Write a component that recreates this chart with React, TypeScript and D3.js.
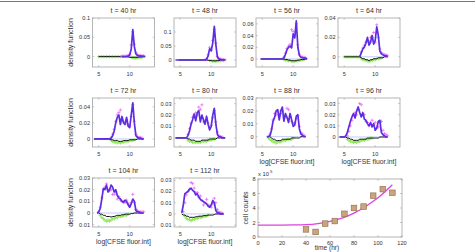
import React from "react";
import * as d3 from "d3";

const _ = null;

// log CFSE fluorescence bins shared by every density panel
const logCfse = [
  4.25, 4.5, 4.75,
  5, 5.25, 5.5, 5.75,
  6, 6.25, 6.5, 6.75,
  7, 7.25, 7.5, 7.75,
  8, 8.25, 8.5, 8.75,
  9, 9.25, 9.5, 9.75,
  10, 10.25, 10.5, 10.75,
  11, 11.25, 11.5, 11.75,
  12, 12.25, 12.5,
];
const xTicks = [5, 10];
const hours = [40, 48, 56, 64, 72, 80, 88, 96, 104, 112];

// model density (blue-violet line)
const fit40 = [_, _, _, _, _, _, _, _, _, _, _, _, _, _, _, _, _, _, 0, 0, 0, 0, 0.001, 0.004, 0.02, 0.07, 0.026, 0.007, 0.003, 0.002, 0.001, 0.001, 0.0005, 0];
const fit48 = [0, 0, 0, 0, 0, 0, 0, 0, 0, 0, 0, 0, 0, 0, 0, 0, 0, 0, 0, 0, 0.002, 0.015, 0.04, 0.033, 0.06, 0.12, 0.055, 0.01, 0.004, 0.002, 0.001, 0.0005, 0, _];
const fit56 = [_, _, 0, 0, 0, 0, 0, 0, 0, 0, 0, 0, 0, 0, 0, 0, 0, 0.002, 0.008, 0.016, 0.02, 0.022, 0.019, 0.043, 0.036, 0.065, 0.02, 0.006, 0.003, 0.002, 0.002, 0.001, 0, _];
const fit64 = [_, _, _, _, _, _, _, _, _, _, _, _, _, 0, 0.004, 0.008, 0.01, 0.014, 0.02, 0.012, 0.015, 0.022, 0.013, 0.017, 0.031, 0.022, 0.006, 0.003, 0.002, 0.001, 0.001, 0, _, _];
const fit72 = [0, 0, 0, 0, 0, 0, 0, 0, 0, 0, 0, 0.001, 0.004, 0.01, 0.02, 0.027, 0.03, 0.018, 0.028, 0.02, 0.018, 0.027, 0.016, 0.014, 0.03, 0.045, 0.02, 0.004, 0.002, 0.001, 0.001, 0, 0, _];
const fit80 = [0, 0, 0, 0, 0, 0, 0, 0, 0.002, 0.006, 0.012, 0.016, 0.021, 0.015, 0.022, 0.024, 0.014, 0.02, 0.016, 0.012, 0.019, 0.012, 0.007, 0.01, 0.02, 0.026, 0.012, 0.003, 0.001, 0.001, 0, 0, 0, _];
const fit88 = [_, _, _, _, _, _, 0, 0, 0.001, 0.005, 0.012, 0.015, 0.02, 0.021, 0.013, 0.02, 0.023, 0.012, 0.018, 0.015, 0.011, 0.018, 0.013, 0.008, 0.009, 0.016, 0.017, 0.006, 0.002, 0.001, 0, 0, _, _];
const fit96 = [0, 0, 0, 0, 0.001, 0.004, 0.009, 0.014, 0.018, 0.021, 0.017, 0.023, 0.027, 0.022, 0.018, 0.022, 0.016, 0.015, 0.012, 0.01, 0.013, 0.009, 0.012, 0.006, 0.008, 0.014, 0.015, 0.004, 0.002, 0.001, 0, 0, _, _];
const fit104 = [_, _, 0, 0.001, 0.004, 0.012, 0.021, 0.02, 0.024, 0.018, 0.02, 0.024, 0.022, 0.018, 0.02, 0.015, 0.013, 0.012, 0.01, 0.009, 0.011, 0.01, 0.007, 0.005, 0.008, 0.012, 0.01, 0.002, 0.001, 0.001, 0, 0, 0, _];
const fit112 = [_, _, _, _, 0.001, 0.008, 0.018, 0.019, 0.02, 0.022, 0.023, 0.021, 0.02, 0.017, 0.018, 0.015, 0.013, 0.012, 0.011, 0.01, 0.009, 0.007, 0.006, 0.008, 0.012, 0.01, 0.003, 0.001, 0.001, 0, 0, 0, _, _];

// measured density (magenta plus markers)
const obs40 = [_, _, _, _, _, _, _, _, _, _, _, _, _, _, _, _, _, _, 0.001, 0.001, 0.001, 0.002, 0.003, 0.006, 0.03, 0.064, 0.032, 0.01, 0.004, 0.003, 0.003, 0.002, 0.002, _];
const obs48 = [_, _, _, _, _, _, _, _, _, _, _, _, _, _, _, _, _, _, _, 0.001, 0.004, 0.018, 0.045, 0.035, 0.07, 0.11, 0.06, 0.013, 0.005, 0.003, 0.002, 0.001, 0.001, _];
const obs56 = [_, _, _, _, _, _, _, _, _, _, _, _, _, _, _, _, _, 0.003, 0.01, 0.018, 0.022, 0.025, 0.05, 0.047, 0.04, 0.06, 0.024, 0.008, 0.004, 0.003, 0.003, 0.002, _, _];
const obs64 = [_, _, _, _, _, _, _, _, _, _, _, _, _, _, 0.005, 0.009, 0.012, 0.015, 0.017, 0.016, 0.02, 0.02, 0.025, 0.015, 0.033, 0.02, 0.008, 0.004, 0.003, 0.002, 0.002, 0.001, _, _];
const obs72 = [_, _, _, _, _, _, _, _, _, _, _, 0.002, 0.006, 0.012, 0.022, 0.03, 0.033, 0.036, 0.025, 0.022, 0.02, 0.024, 0.018, 0.016, 0.028, 0.043, 0.022, 0.006, 0.003, 0.002, 0.002, 0.001, _, _];
const obs80 = [_, _, _, _, _, _, _, _, 0.003, 0.008, 0.013, 0.018, 0.02, 0.022, 0.02, 0.027, 0.025, 0.029, 0.014, 0.015, 0.016, 0.013, 0.009, 0.011, 0.018, 0.024, 0.014, 0.005, 0.002, 0.001, 0.001, _, _, _];
const obs88 = [_, _, _, _, _, _, _, _, 0.002, 0.006, 0.013, 0.018, 0.017, 0.02, 0.016, 0.018, 0.02, 0.015, 0.016, 0.022, 0.021, 0.016, 0.012, 0.01, 0.011, 0.014, 0.016, 0.008, 0.003, 0.002, 0.001, _, _, _];
const obs96 = [_, _, _, _, _, 0.001, 0.005, 0.01, 0.015, 0.02, 0.022, 0.02, 0.025, 0.03, 0.029, 0.02, 0.02, 0.014, 0.013, 0.01, 0.012, 0.015, 0.011, 0.013, 0.008, 0.009, 0.013, 0.014, 0.006, 0.003, 0.002, 0.001, _, _];
const obs104 = [_, _, _, 0.001, 0.005, 0.013, 0.02, 0.022, 0.025, 0.02, 0.019, 0.02, 0.016, 0.016, 0.018, 0.012, 0.014, 0.011, 0.01, 0.01, 0.009, 0.011, 0.008, 0.006, 0.009, 0.016, 0.009, 0.003, 0.002, 0.001, 0.001, 0.001, 0.001, _];
const obs112 = [_, _, _, _, _, 0.002, 0.01, 0.017, 0.02, 0.022, 0.028, 0.027, 0.023, 0.019, 0.019, 0.015, 0.016, 0.012, 0.008, 0.01, 0.013, 0.008, 0.007, 0.006, 0.009, 0.014, 0.01, 0.004, 0.002, 0.001, 0.001, _, _, _];

// model loss term (black line)
const loss40 = [_, _, _, 0, 0, 0, 0, 0, 0, 0, 0, 0, 0, 0, 0, 0, 0, 0, 0, 0, 0, 0, -0.001, -0.002, -0.002, -0.002, -0.002, -0.002, -0.002, -0.001, -0.001, -0.001, 0, 0];
const loss48 = [_, _, 0, 0, 0, 0, 0, 0, 0, 0, 0, 0, 0, 0, 0, 0, 0, 0, 0, 0, 0, -0.001, -0.002, -0.002, -0.003, -0.003, -0.003, -0.002, -0.002, -0.001, -0.001, 0, 0, _];
const loss56 = [_, _, 0, 0, 0, 0, 0, 0, 0, 0, 0, 0, 0, 0, 0, 0, 0, 0, -0.001, -0.001, -0.002, -0.002, -0.003, -0.003, -0.003, -0.003, -0.002, -0.002, -0.001, -0.001, -0.001, 0, 0, _];
const loss64 = [_, _, _, 0, 0, 0, 0, 0, 0, 0, 0, 0, 0, 0, -0.001, -0.002, -0.002, -0.003, -0.003, -0.004, -0.003, -0.003, -0.002, -0.002, -0.002, -0.001, -0.001, -0.001, -0.001, 0, 0, 0, _, _];
const loss72 = [0, 0, 0, 0, 0, 0, 0, 0, 0, 0, 0, -0.001, -0.001, -0.002, -0.002, -0.002, -0.003, -0.003, -0.003, -0.002, -0.002, -0.002, -0.002, -0.001, -0.001, -0.001, -0.001, -0.001, 0, 0, 0, 0, 0, _];
const loss80 = [0, 0, 0, 0, 0, 0, 0, 0, -0.001, -0.001, -0.002, -0.002, -0.002, -0.003, -0.003, -0.003, -0.003, -0.002, -0.002, -0.002, -0.002, -0.002, -0.001, -0.001, -0.001, -0.001, -0.001, 0, 0, 0, 0, 0, 0, _];
const loss88 = [_, _, _, _, _, _, 0, 0, 0, -0.001, -0.002, -0.002, -0.003, -0.003, -0.003, -0.003, -0.002, -0.002, -0.002, -0.002, -0.002, -0.002, -0.001, -0.001, -0.001, -0.001, -0.001, -0.001, 0, 0, 0, 0, _, _];
const loss96 = [0, 0, 0, 0, 0, -0.001, -0.001, -0.002, -0.002, -0.003, -0.003, -0.003, -0.003, -0.002, -0.002, -0.002, -0.002, -0.002, -0.001, -0.001, -0.001, -0.001, -0.001, -0.001, -0.001, -0.001, 0, 0, 0, 0, 0, 0, _, _];
const loss104 = [_, _, 0, 0, -0.001, -0.001, -0.002, -0.002, -0.003, -0.003, -0.003, -0.0035, -0.003, -0.003, -0.0025, -0.002, -0.002, -0.002, -0.0015, -0.0015, -0.001, -0.001, -0.001, -0.001, -0.0005, -0.0005, 0, 0, 0, 0, 0, 0, 0, _];
const loss112 = [_, _, _, _, 0, -0.001, -0.001, -0.002, -0.002, -0.003, -0.003, -0.003, -0.003, -0.0025, -0.0025, -0.002, -0.002, -0.002, -0.0015, -0.0015, -0.0015, -0.001, -0.001, -0.001, -0.001, -0.0005, 0, 0, 0, 0, 0, 0, _, _];

// measured loss term (green plus markers)
const lossObs40 = [_, _, _, 0, 0, 0, 0, 0, 0, 0, 0, 0, 0, 0, 0, 0, 0, 0, 0, _, _, _, _, _, -0.002, -0.003, -0.004, -0.004, -0.003, -0.003, -0.002, -0.002, _, _];
const lossObs48 = [_, _, _, _, _, _, _, _, _, _, _, _, _, _, _, _, _, _, _, _, _, _, -0.002, -0.003, -0.004, -0.004, -0.005, -0.004, -0.003, -0.003, -0.002, -0.002, _, _];
const lossObs56 = [_, _, _, _, _, _, _, _, _, _, _, _, _, _, _, _, _, -0.001, -0.002, -0.002, -0.003, -0.003, -0.004, -0.004, -0.004, -0.003, -0.003, -0.002, -0.002, -0.001, -0.001, _, _, _];
const lossObs64 = [_, _, _, 0, 0, 0, 0, 0, 0, 0, 0, 0, 0, 0, -0.002, -0.003, -0.003, -0.004, -0.004, -0.005, -0.004, -0.004, -0.003, -0.003, -0.002, -0.002, -0.002, -0.001, _, _, _, _, _, _];
const lossObs72 = [_, _, _, _, _, _, _, _, _, _, _, -0.002, -0.003, -0.004, -0.004, -0.005, -0.004, -0.005, -0.004, -0.004, -0.003, -0.003, -0.003, -0.002, -0.002, -0.002, -0.001, _, _, _, _, _, _, _];
const lossObs80 = [_, _, _, _, _, _, _, _, -0.002, -0.003, -0.003, -0.004, -0.004, -0.004, -0.004, -0.004, -0.004, -0.003, -0.003, -0.003, -0.003, -0.002, -0.002, -0.002, -0.001, -0.001, _, _, _, _, _, _, _, _];
const lossObs88 = [_, _, _, _, _, _, _, -0.001, -0.002, -0.003, -0.004, -0.004, -0.005, -0.004, -0.004, -0.004, -0.003, -0.003, -0.003, -0.002, -0.002, -0.002, -0.002, -0.001, _, _, _, _, _, _, _, _, _, _];
const lossObs96 = [_, _, _, _, _, -0.002, -0.003, -0.004, -0.004, -0.005, -0.004, -0.005, -0.004, -0.004, -0.003, -0.003, -0.003, -0.002, -0.002, -0.002, -0.001, -0.001, _, _, _, _, _, _, _, _, _, _, _, _];
const lossObs104 = [_, _, _, _, -0.002, -0.004, -0.005, -0.006, -0.007, -0.006, -0.007, -0.006, -0.005, -0.005, -0.004, -0.004, -0.003, -0.003, -0.003, -0.002, -0.002, -0.002, -0.001, _, _, _, _, _, _, _, _, _, _, _];
const lossObs112 = [_, _, _, _, _, _, -0.002, -0.004, -0.005, -0.005, -0.006, -0.005, -0.005, -0.004, -0.004, -0.003, -0.003, -0.003, -0.002, -0.002, -0.002, -0.001, _, _, _, _, _, _, _, _, _, _, _, _];

const fits = [fit40, fit48, fit56, fit64, fit72, fit80, fit88, fit96, fit104, fit112];
const observed = [obs40, obs48, obs56, obs64, obs72, obs80, obs88, obs96, obs104, obs112];
const lossFits = [loss40, loss48, loss56, loss64, loss72, loss80, loss88, loss96, loss104, loss112];
const lossObserved = [lossObs40, lossObs48, lossObs56, lossObs64, lossObs72, lossObs80, lossObs88, lossObs96, lossObs104, lossObs112];

const yLimits = [
  [-0.027, 0.1], [-0.025, 0.15], [-0.0137, 0.07], [-0.0105, 0.04],
  [-0.01, 0.051], [-0.008, 0.035], [-0.008, 0.03], [-0.009, 0.035],
  [-0.012, 0.03], [-0.0116, 0.032],
];
const yTickValues = [
  [0, 0.05, 0.1], [0, 0.05, 0.1], [0, 0.02, 0.04, 0.06], [0, 0.02, 0.04],
  [0, 0.02, 0.04], [0, 0.01, 0.02, 0.03], [0, 0.01, 0.02, 0.03], [0, 0.01, 0.02, 0.03],
  [-0.01, 0, 0.01, 0.02, 0.03], [-0.01, 0, 0.01, 0.02, 0.03],
];
const yTickText = [
  ["0", "0.05", "0.1"], ["0", "0.05", "0.1"], ["0", "0.02", "0.04", "0.06"], ["0", "0.02", "0.04"],
  ["0", "0.02", "0.04"], ["0", "0.01", "0.02", "0.03"], ["0", "0.01", "0.02", "0.03"], ["0", "0.01", "0.02", "0.03"],
  ["0.01", "0", "0.01", "0.02", "0.03"], ["0.01", "0", "0.01", "0.02", "0.03"],
];

// population counts
const sampleHours = [40, 48, 56, 64, 72, 80, 88, 96, 104, 112];
const cellCounts = [1.05, 0.7, 1.85, 2.2, 3.2, 4.0, 4.2, 5.7, 6.6, 6.1];
const fitHours = [0, 10, 20, 30, 40, 50, 60, 70, 80, 90, 100, 112];
const fitCounts = [1.65, 1.65, 1.65, 1.66, 1.7, 1.85, 2.15, 2.6, 3.3, 4.25, 5.4, 7.2];
const timeTicks = [0, 20, 40, 60, 80, 100, 120];
const countTicks = [0, 2, 4, 6, 8];

const FONT = "'Liberation Sans', Arial, sans-serif";
const TEXT = "#333";
const FRAME = "#a4a4a4";
const PURPLE = "#5a2ee2";
const MAGENTA = "#ee66ee";
const GREEN = "#90e85c";
const ZERO_BLUE = "#b3bcf5";

const colLeft = [92.5, 174, 256, 338];
const rowTop = [0, 80, 160];
const PW = 62;
const PH = 49;

type Pt = [number, number];

const plus = (cx: number, cy: number, r: number) =>
  `M${cx - r},${cy}H${cx + r}M${cx},${cy - r}V${cy + r}`;

function DensityPanel({ i }: { i: number }) {
  const row = Math.floor(i / 4);
  const col = i % 4;
  const left = colLeft[col];
  const top = rowTop[row] + 18;
  const x = d3.scaleLinear().domain([4, 14]).range([left, left + PW]);
  const y = d3.scaleLinear().domain(yLimits[i]).range([top + PH, top]);
  const series = (vals: (number | null)[]): Pt[] =>
    logCfse.map((g, k) => [g, vals[k]] as [number, number | null]).filter((d) => d[1] != null) as Pt[];
  const line = d3.line<Pt>().x((d) => x(d[0])).y((d) => y(d[1]));
  const markers = (vals: (number | null)[], r: number) =>
    series(vals).map((d) => plus(x(d[0]), y(d[1]), r)).join("");
  const lossSeries = series(lossFits[i]);
  const [z0, z1] = d3.extent(lossSeries, (d) => d[0]) as [number, number];
  const showXLabel = i >= 6;

  return (
    <g>
      <text x={left + PW / 2} y={rowTop[row] + 12.5} fontSize={7} textAnchor="middle" fill={TEXT}>
        t = {hours[i]} hr
      </text>
      <rect x={left} y={top} width={PW} height={PH} fill="#fff" stroke={FRAME} strokeWidth={0.8} />
      <line x1={x(z0)} x2={x(z1)} y1={y(0)} y2={y(0)} stroke={ZERO_BLUE} strokeWidth={0.8} />
      <path d={markers(lossObserved[i], 1.6)} stroke={GREEN} strokeWidth={1} fill="none" />
      <path d={line(lossSeries) || ""} stroke="#111" strokeWidth={1} fill="none" />
      <path d={markers(observed[i], 1.6)} stroke={MAGENTA} strokeWidth={0.75} fill="none" />
      <path d={line(series(fits[i])) || ""} stroke={PURPLE} strokeWidth={1.7} fill="none" strokeLinejoin="round" />
      {xTicks.map((v) => (
        <g key={"x" + v}>
          <line x1={x(v)} x2={x(v)} y1={top + PH} y2={top + PH - 1.8} stroke={FRAME} strokeWidth={0.6} />
          <line x1={x(v)} x2={x(v)} y1={top} y2={top + 1.8} stroke={FRAME} strokeWidth={0.6} />
          <text x={x(v)} y={rowTop[row] + 75.5} fontSize={5.6} textAnchor="middle" fill={TEXT}>{v}</text>
        </g>
      ))}
      {yTickValues[i].map((v, k) => (
        <g key={"y" + k}>
          <line x1={left} x2={left + 1.8} y1={y(v)} y2={y(v)} stroke={FRAME} strokeWidth={0.6} />
          <line x1={left + PW} x2={left + PW - 1.8} y1={y(v)} y2={y(v)} stroke={FRAME} strokeWidth={0.6} />
          <text x={left - 2.5} y={y(v) + 2} fontSize={5.6} textAnchor="end" fill={TEXT}>{yTickText[i][k]}</text>
        </g>
      ))}
      {showXLabel && (
        <text x={left + PW / 2} y={rowTop[row] + 84} fontSize={6.8} textAnchor="middle" fill={TEXT}>
          log[CFSE fluor.int]
        </text>
      )}
    </g>
  );
}

function CountPanel() {
  const left = 258, right = 402, top = 179, bottom = 237;
  const x = d3.scaleLinear().domain([0, 120]).range([left, right]);
  const y = d3.scaleLinear().domain([0, 8]).range([bottom, top]);
  const curve = d3
    .line<number>()
    .x((_d, k) => x(fitHours[k]))
    .y((d) => y(d))
    .curve(d3.curveMonotoneX);
  return (
    <g>
      <rect x={left} y={top} width={right - left} height={bottom - top} fill="#fff" stroke={FRAME} strokeWidth={0.8} />
      {timeTicks.map((v) => (
        <g key={"t" + v}>
          <line x1={x(v)} x2={x(v)} y1={bottom} y2={bottom - 2} stroke={FRAME} strokeWidth={0.6} />
          <line x1={x(v)} x2={x(v)} y1={top} y2={top + 2} stroke={FRAME} strokeWidth={0.6} />
          <text x={x(v)} y={bottom + 7.5} fontSize={5.6} textAnchor="middle" fill={TEXT}>{v}</text>
        </g>
      ))}
      {countTicks.map((v) => (
        <g key={"c" + v}>
          <line x1={left} x2={left + 2} y1={y(v)} y2={y(v)} stroke={FRAME} strokeWidth={0.6} />
          <line x1={right} x2={right - 2} y1={y(v)} y2={y(v)} stroke={FRAME} strokeWidth={0.6} />
          <text x={left - 2.5} y={y(v) + 2} fontSize={5.6} textAnchor="end" fill={TEXT}>{v}</text>
        </g>
      ))}
      <path d={curve(fitCounts) || ""} stroke="#dc44dc" strokeWidth={1.3} fill="none" />
      {sampleHours.map((t, k) => (
        <rect
          key={t}
          x={x(t) - 2.8}
          y={y(cellCounts[k]) - 2.8}
          width={5.6}
          height={5.6}
          fill="#c9a47c"
          stroke="#8d6b4a"
          strokeWidth={0.6}
        />
      ))}
      <text x={left} y={top - 3} fontSize={5.8} fill={TEXT}>x 10</text>
      <text x={left + 12} y={top - 6.5} fontSize={4.4} fill={TEXT}>5</text>
      <text transform={`translate(${left - 10.5},${(top + bottom) / 2}) rotate(-90)`} fontSize={7} textAnchor="middle" fill={TEXT}>
        cell counts
      </text>
      <text x={(left + right) / 2 - 3} y={bottom + 13.2} fontSize={6.6} textAnchor="middle" fill={TEXT}>
        time (hr)
      </text>
    </g>
  );
}

export default function App() {
  return (
    <svg
      width={476}
      height={252}
      style={{ position: "absolute", left: 0, top: 0, background: "#fff" }}
      fontFamily={FONT}
    >
      <line x1={0} x2={475} y1={1.5} y2={1.5} stroke="#777" strokeWidth={1} />
      {rowTop.map((r) => (
        <text key={r} transform={`translate(72.5,${r + 42.5}) rotate(-90)`} fontSize={7} textAnchor="middle" fill={TEXT}>
          density function
        </text>
      ))}
      {hours.map((h, i) => (
        <DensityPanel key={h} i={i} />
      ))}
      <CountPanel />
    </svg>
  );
}
